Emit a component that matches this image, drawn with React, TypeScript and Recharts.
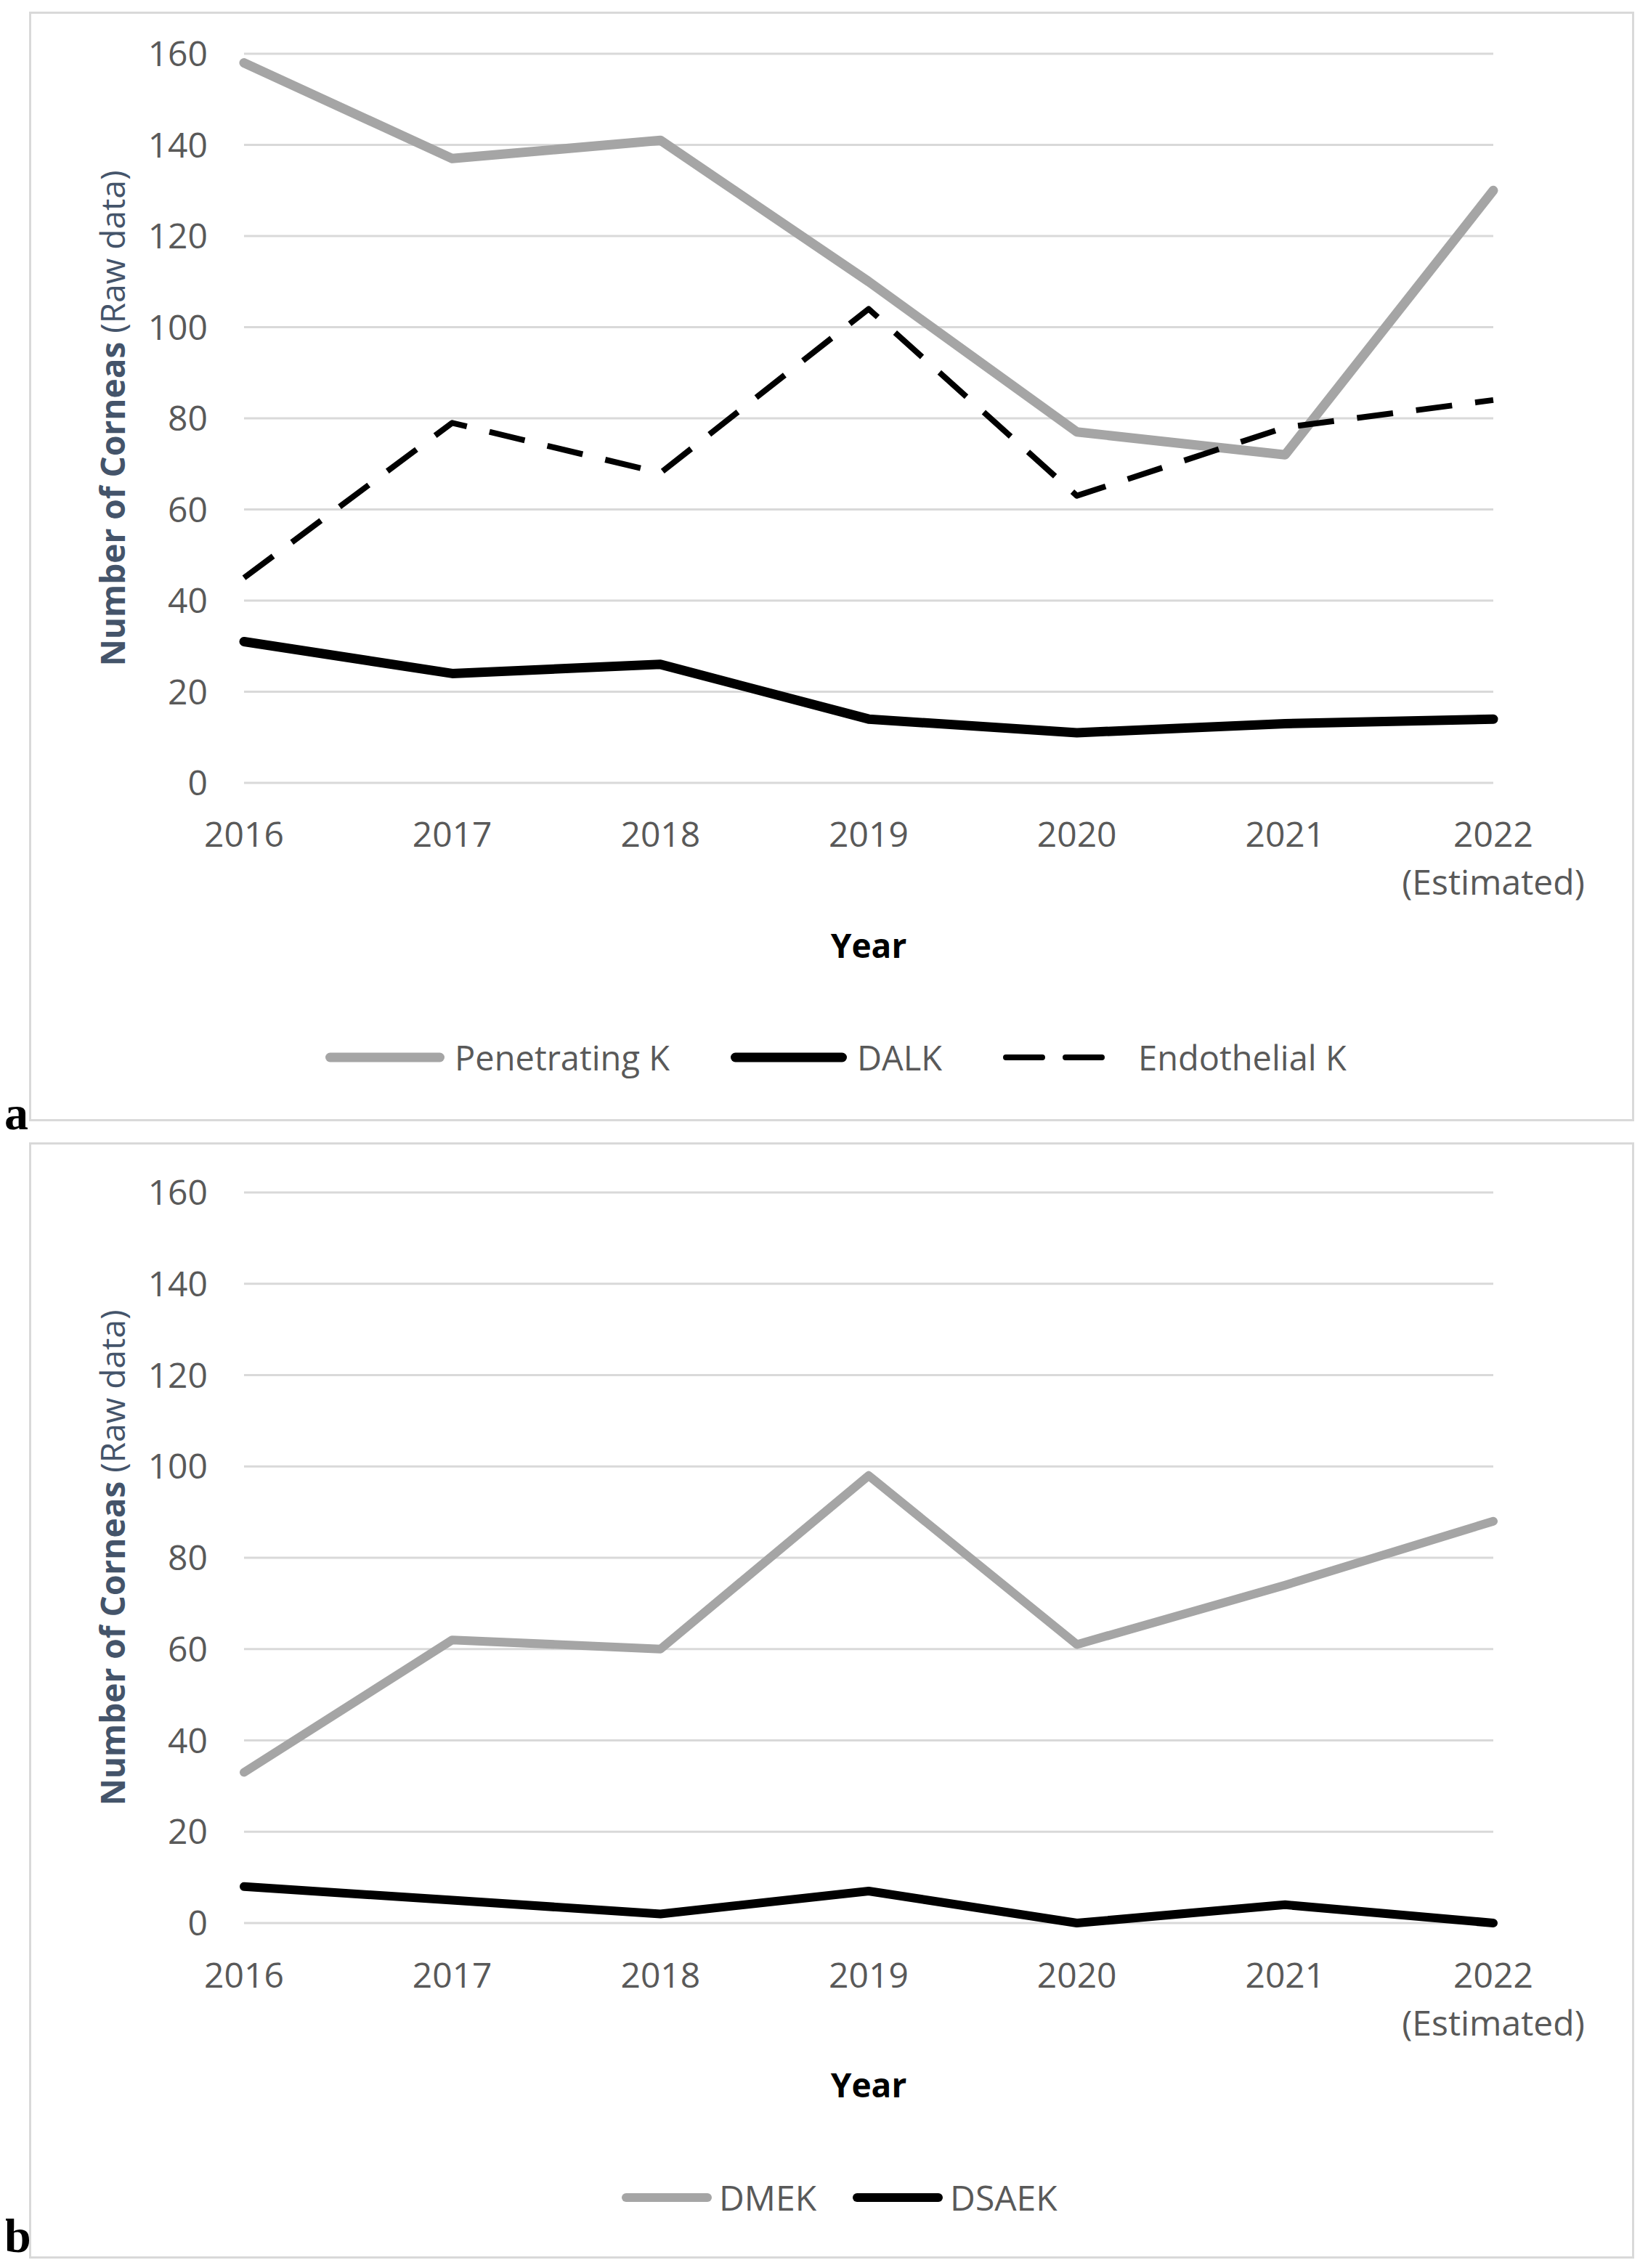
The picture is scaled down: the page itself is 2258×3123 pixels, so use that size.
import React from 'react';
import { LineChart, Line, XAxis, YAxis, CartesianGrid, Legend } from 'recharts';

// categories and values
const years = ['2016', '2017', '2018', '2019', '2020', '2021', '2022 (Estimated)'];
const penetratingK = [158, 137, 141, 110, 77, 72, 130];
const dalk = [31, 24, 26, 14, 11, 13, 14];
const endothelialK = [45, 79, 68, 104, 63, 78, 84];
const dmek = [33, 62, 60, 98, 61, 74, 88];
const dsaek = [8, 5, 2, 7, 0, 4, 0];
const yTicks = [0, 20, 40, 60, 80, 100, 120, 140, 160];

const topData = years.map((year, i) => ({
  year,
  pk: penetratingK[i],
  dalk: dalk[i],
  ek: endothelialK[i],
}));
const bottomData = years.map((year, i) => ({
  year,
  dmek: dmek[i],
  dsaek: dsaek[i],
}));

const FONT = '"Open Sans", sans-serif';
const TEXT = '#595959';
const GRID = '#D9D9D9';
const GRAY = '#A5A5A5';

function YearTick({ x, y, payload }: any) {
  const value: string = payload.value;
  const cut = value.indexOf(' (');
  const main = cut < 0 ? value : value.slice(0, cut);
  const sub = cut < 0 ? null : value.slice(cut + 1);
  return (
    <text x={x} y={y} textAnchor="middle" fill={TEXT} fontSize={48} fontFamily={FONT}>
      <tspan x={x} dy="0.71em">{main}</tspan>
      {sub && <tspan x={x} dy={66}>{sub}</tspan>}
    </text>
  );
}

function YTitle({ viewBox }: any) {
  const cx = viewBox.x + 154;
  const cy = viewBox.y + viewBox.height / 2;
  return (
    <text
      x={cx}
      y={cy}
      transform={`rotate(-90 ${cx} ${cy})`}
      textAnchor="middle"
      dominantBaseline="central"
      fill="#44546A"
      fontSize={46}
      fontFamily={FONT}
    >
      <tspan fontWeight={700}>Number of Corneas </tspan>
      <tspan>(Raw data)</tspan>
    </text>
  );
}

function XTitle({ viewBox, drop }: any) {
  return (
    <text
      x={viewBox.x + viewBox.width / 2}
      y={viewBox.y + drop}
      textAnchor="middle"
      fill="#000"
      fontSize={46}
      fontWeight={700}
      fontFamily={FONT}
    >
      Year
    </text>
  );
}

type LegendItem = { label: string; color: string; width: number; dash?: string; thick: number; gap: number; after: number };

function LegendRow({ items, size }: { items: LegendItem[]; size: number }) {
  return (
    <div style={{ display: 'flex', alignItems: 'center', height: 70, fontFamily: FONT, fontSize: size, color: TEXT }}>
      {items.map((it) => (
        <div key={it.label} style={{ display: 'flex', alignItems: 'center', marginRight: it.after }}>
          <svg width={it.width} height={20}>
            <line
              x1={it.thick / 2}
              y1={10}
              x2={it.width - it.thick / 2}
              y2={10}
              stroke={it.color}
              strokeWidth={it.thick}
              strokeDasharray={it.dash}
              strokeLinecap="round"
            />
          </svg>
          <span style={{ marginLeft: it.gap, lineHeight: '70px' }}>{it.label}</span>
        </div>
      ))}
    </div>
  );
}

const topLegend: LegendItem[] = [
  { label: 'Penetrating K', color: GRAY, width: 164, thick: 13, gap: 14, after: 84 },
  { label: 'DALK', color: '#000', width: 160, thick: 13, gap: 14, after: 84 },
  { label: 'Endothelial K', color: '#000', width: 160, thick: 8, dash: '50 32', gap: 26, after: 0 },
];
const bottomLegend: LegendItem[] = [
  { label: 'DMEK', color: GRAY, width: 124, thick: 12, gap: 10, after: 50 },
  { label: 'DSAEK', color: '#000', width: 124, thick: 12, gap: 10, after: 0 },
];

const axisTick = { fontSize: 48, fill: TEXT, fontFamily: FONT };

export default function App() {
  return (
    <div style={{ position: 'relative', width: 2258, height: 3123, margin: -8, background: '#fff', overflow: 'hidden' }}>
      <div style={{ position: 'absolute', left: 40, top: 16, width: 2210, height: 1528, border: `3px solid ${GRID}`, boxSizing: 'border-box' }} />
      <div style={{ position: 'absolute', left: 40, top: 1573, width: 2210, height: 1537, border: `3px solid ${GRID}`, boxSizing: 'border-box' }} />
      <div style={{ position: 'absolute', left: 6, top: 1500, fontFamily: '"Liberation Serif", serif', fontWeight: 700, fontSize: 66, lineHeight: 1 }}>a</div>
      <div style={{ position: 'absolute', left: 6, top: 3046, fontFamily: '"Liberation Serif", serif', fontWeight: 700, fontSize: 66, lineHeight: 1 }}>b</div>

      <div style={{ position: 'absolute', left: 0, top: 0 }}>
        <LineChart width={2258} height={1560} data={topData} margin={{ top: 74, right: 202, bottom: 0, left: 0 }}>
          <CartesianGrid vertical={false} stroke={GRID} strokeWidth={3} />
          <XAxis
            dataKey="year"
            height={482}
            axisLine={false}
            tickLine={false}
            tickSize={0}
            tickMargin={54}
            interval={0}
            tick={<YearTick />}
            label={<XTitle drop={241} />}
          />
          <YAxis
            domain={[0, 160]}
            ticks={yTicks}
            width={336}
            axisLine={false}
            tickLine={false}
            tickSize={0}
            tickMargin={50}
            tick={axisTick}
            label={<YTitle />}
          />
          <Legend
            layout="horizontal"
            verticalAlign="middle"
            align="center"
            wrapperStyle={{ top: 1421, left: 448, width: 1600 }}
            content={() => <LegendRow items={topLegend} size={47} />}
          />
          <Line dataKey="pk" name="Penetrating K" stroke={GRAY} strokeWidth={13} dot={false} strokeLinejoin="round" strokeLinecap="round" isAnimationActive={false} />
          <Line dataKey="dalk" name="DALK" stroke="#000" strokeWidth={13} dot={false} strokeLinejoin="round" strokeLinecap="round" isAnimationActive={false} />
          <Line dataKey="ek" name="Endothelial K" stroke="#000" strokeWidth={8} strokeDasharray="50 32" dot={false} strokeLinejoin="round" isAnimationActive={false} />
        </LineChart>
      </div>

      <div style={{ position: 'absolute', left: 0, top: 1560 }}>
        <LineChart width={2258} height={1563} data={bottomData} margin={{ top: 82, right: 202, bottom: 0, left: 0 }}>
          <CartesianGrid vertical={false} stroke={GRID} strokeWidth={3} />
          <XAxis
            dataKey="year"
            height={475}
            axisLine={false}
            tickLine={false}
            tickSize={0}
            tickMargin={55}
            interval={0}
            tick={<YearTick />}
            label={<XTitle drop={240} />}
          />
          <YAxis
            domain={[0, 160]}
            ticks={yTicks}
            width={336}
            axisLine={false}
            tickLine={false}
            tickSize={0}
            tickMargin={50}
            tick={axisTick}
            label={<YTitle />}
          />
          <Legend
            layout="horizontal"
            verticalAlign="middle"
            align="center"
            wrapperStyle={{ top: 1431, left: 856, width: 800 }}
            content={() => <LegendRow items={bottomLegend} size={48} />}
          />
          <Line dataKey="dmek" name="DMEK" stroke={GRAY} strokeWidth={12} dot={false} strokeLinejoin="round" strokeLinecap="round" isAnimationActive={false} />
          <Line dataKey="dsaek" name="DSAEK" stroke="#000" strokeWidth={12} dot={false} strokeLinejoin="round" strokeLinecap="round" isAnimationActive={false} />
        </LineChart>
      </div>
    </div>
  );
}
